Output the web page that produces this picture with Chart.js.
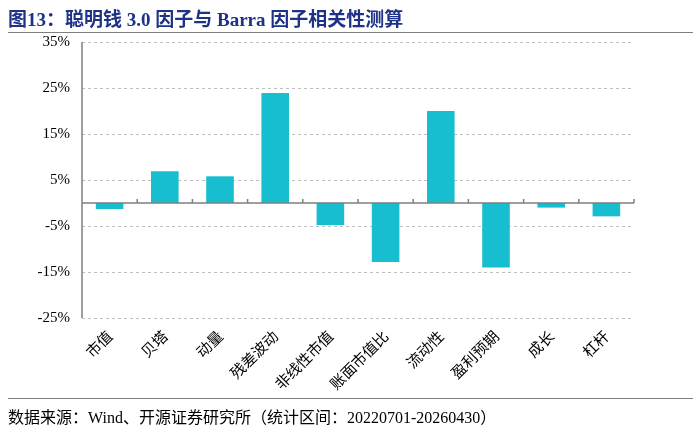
<!DOCTYPE html>
<html><head><meta charset="utf-8">
<script src="https://cdn.jsdelivr.net/npm/chart.js@4.4.0/dist/chart.umd.min.js"></script>
<style>
html,body{margin:0;padding:0;background:#fff;}
#wrap{position:relative;width:700px;height:433px;overflow:hidden;}
#title{position:absolute;left:8px;top:4px;font:bold 19px "Liberation Serif","Noto Sans CJK SC",serif;color:#1E3287;white-space:nowrap;}
#tline{position:absolute;left:8px;top:32px;width:685px;height:0;border-top:1.5px solid #7f7f7f;}
#bline{position:absolute;left:8px;top:398px;width:685px;height:0;border-top:1.5px solid #7f7f7f;}
#src{position:absolute;left:8px;top:404px;font:16px "Liberation Serif","Noto Sans CJK SC",serif;color:#000;white-space:nowrap;}
#cbox{position:absolute;left:0;top:0;width:700px;height:433px;}
</style></head>
<body>
<div id="wrap">
  <div id="cbox"><canvas id="cv"></canvas></div>
  <div id="title">图13：聪明钱 3.0 因子与 Barra 因子相关性测算</div>
  <div id="tline"></div>
  <div id="bline"></div>
  <div id="src">数据来源：Wind、开源证券研究所（统计区间：20220701-20260430）</div>
</div>
<script>
const categories = ['市值','贝塔','动量','残差波动','非线性市值','账面市值比','流动性','盈利预期','成长','杠杆'];
const correlations = [-1.3, 6.9, 5.8, 23.9, -4.8, -12.8, 20.0, -14.0, -1.0, -2.9];
const yTicks = [35, 25, 15, 5, -5, -15, -25];

const axisLines = {
  id: 'axisLines',
  afterDatasetsDraw(chart) {
    const {ctx, chartArea: a, scales: {x, y}} = chart;
    const y0 = y.getPixelForValue(0);
    ctx.save();
    ctx.strokeStyle = '#7f7f7f';
    ctx.lineWidth = 1.5;
    ctx.beginPath();
    ctx.moveTo(a.left, a.top); ctx.lineTo(a.left, a.bottom);
    ctx.moveTo(a.left, y0); ctx.lineTo(a.right, y0);
    const n = categories.length;
    for (let i = 1; i <= n; i++) {
      const px = i < n ? (x.getPixelForValue(i - 1) + x.getPixelForValue(i)) / 2 : a.right;
      ctx.moveTo(px, y0); ctx.lineTo(px, y0 - 4);
    }
    ctx.stroke();
    ctx.restore();
  }
};

new Chart(document.getElementById('cv'), {
  type: 'bar',
  data: {
    labels: categories,
    datasets: [{
      data: correlations,
      backgroundColor: '#17BECF',
      borderWidth: 0,
      categoryPercentage: 1,
      barPercentage: 0.5
    }]
  },
  options: {
    responsive: true,
    maintainAspectRatio: false,
    animation: false,
    layout: {padding: {top: 42, right: 66, bottom: 0, left: 0}},
    plugins: {legend: {display: false}, tooltip: {enabled: false}, title: {display: false}},
    scales: {
      x: {
        grid: {display: false, drawTicks: false},
        border: {display: false},
        ticks: {
          autoSkip: false, maxRotation: 45, minRotation: 45, padding: 9,
          color: '#000',
          font: {family: '"Noto Sans CJK SC", sans-serif', size: 15}
        },
        afterFit: s => { s.height = 115; }
      },
      y: {
        min: -25, max: 35,
        afterBuildTicks: s => { s.ticks = yTicks.map(v => ({value: v})); },
        grid: {
          drawTicks: false,
          lineWidth: 1,
          color: c => (c.tick && c.tick.value === 0) ? 'rgba(0,0,0,0)' : '#BFBFBF'
        },
        border: {display: false, dash: [3, 3]},
        ticks: {
          padding: 12,
          color: '#000',
          font: {family: '"Liberation Serif", serif', size: 15},
          callback: v => v + '%'
        },
        afterFit: s => { s.width = 82; }
      }
    }
  },
  plugins: [axisLines]
});
</script>
</body></html>
